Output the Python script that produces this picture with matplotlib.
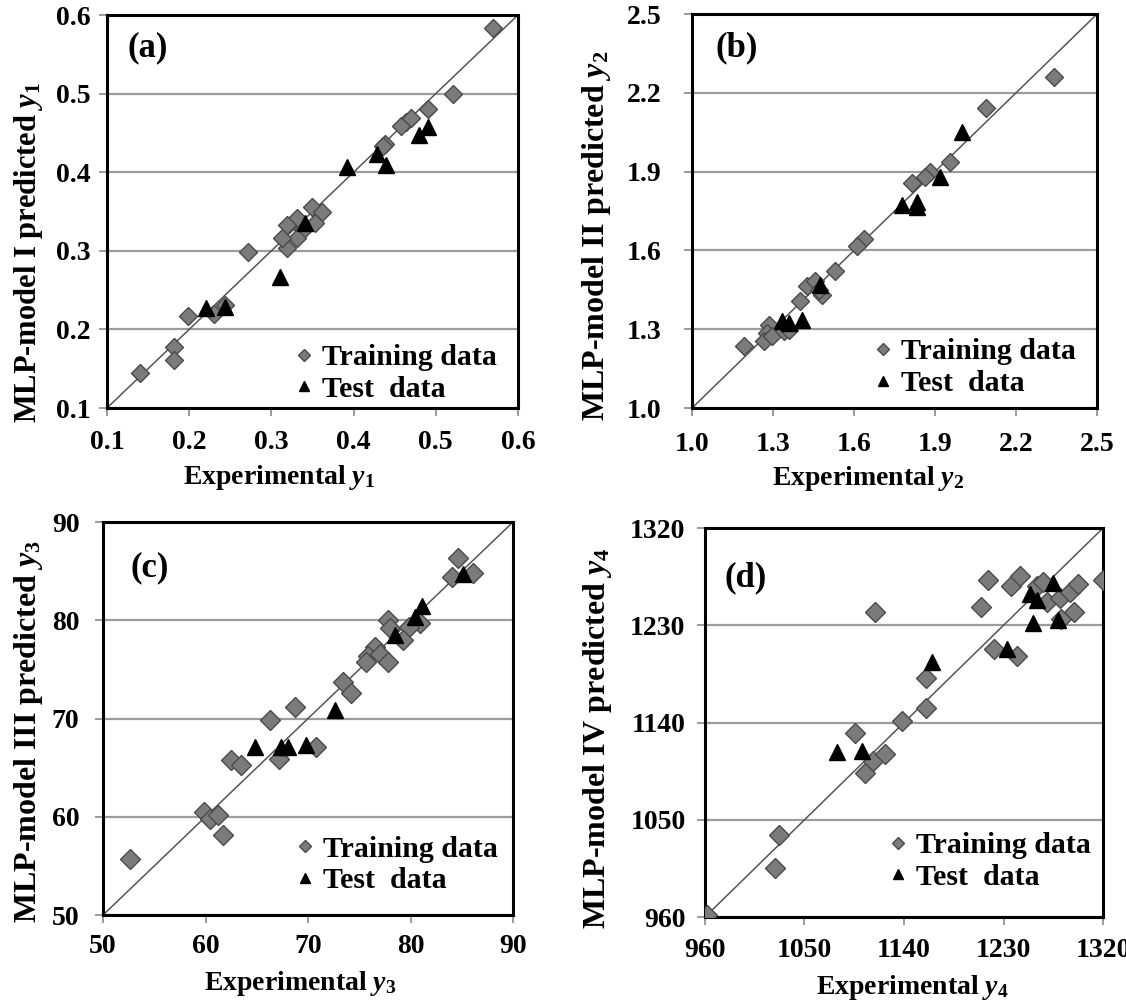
import matplotlib
matplotlib.use("Agg")
import matplotlib.pyplot as plt

plt.rcParams["font.family"] = "serif"
plt.rcParams["font.serif"] = ["Liberation Serif", "DejaVu Serif"]
plt.rcParams["font.weight"] = "bold"
plt.rcParams["mathtext.fontset"] = "custom"
plt.rcParams["mathtext.rm"] = "Liberation Serif:bold"
plt.rcParams["mathtext.it"] = "Liberation Serif:italic:bold"
plt.rcParams["mathtext.bf"] = "Liberation Serif:bold"

# ---- data ----
# (a) y1
a_train_x = [0.570, 0.521, 0.491, 0.464, 0.458, 0.470, 0.438, 0.436, 0.349, 0.361,
             0.331, 0.319, 0.353, 0.339, 0.331, 0.319, 0.313, 0.272, 0.199, 0.230,
             0.244, 0.182, 0.182, 0.140]
a_train_y = [0.583, 0.500, 0.481, 0.464, 0.459, 0.469, 0.436, 0.433, 0.356, 0.349,
             0.342, 0.333, 0.335, 0.327, 0.316, 0.303, 0.316, 0.298, 0.217, 0.219,
             0.231, 0.178, 0.161, 0.145]
a_test_x = [0.491, 0.479, 0.392, 0.428, 0.440, 0.341, 0.311, 0.221, 0.244]
a_test_y = [0.458, 0.447, 0.407, 0.423, 0.409, 0.335, 0.267, 0.227, 0.229]

# (b) y2
b_train_x = [2.340, 2.090, 1.957, 1.883, 1.864, 1.815, 1.636, 1.611, 1.531, 1.426,
             1.457, 1.481, 1.401, 1.284, 1.278, 1.265, 1.296, 1.340, 1.358, 1.191,
             1.469]
b_train_y = [2.259, 2.141, 1.938, 1.900, 1.881, 1.858, 1.643, 1.615, 1.520, 1.463,
             1.482, 1.431, 1.406, 1.317, 1.285, 1.254, 1.273, 1.292, 1.298, 1.235,
             1.450]
b_test_x = [2.000, 1.920, 1.778, 1.833, 1.833, 1.475, 1.407, 1.333, 1.358]
b_test_y = [2.052, 1.881, 1.773, 1.786, 1.767, 1.469, 1.336, 1.330, 1.323]

# (c) y3
c_train_x = [84.6, 84.0, 86.1, 77.8, 78.0, 80.9, 79.9, 79.3, 76.5, 75.9, 75.7, 77.0,
             77.8, 73.4, 74.2, 68.7, 66.3, 70.8, 67.2, 62.5, 63.5, 59.9, 60.4, 61.2,
             61.7, 52.6]
c_train_y = [86.3, 84.4, 84.8, 80.0, 79.2, 79.7, 79.3, 78.0, 77.3, 76.4, 75.8, 76.6,
             75.8, 73.7, 72.6, 71.2, 69.8, 67.1, 65.9, 65.8, 65.3, 60.5, 59.8, 60.2,
             58.1, 55.7]
c_test_x = [85.1, 81.1, 80.4, 78.5, 72.6, 64.8, 67.4, 68.0, 69.8]
c_test_y = [84.7, 81.5, 80.3, 78.5, 70.9, 67.1, 67.1, 67.1, 67.3]

# (d) y4
d_train_x = [962, 1023, 1027, 1114, 1096, 1105, 1112, 1123, 1138, 1160, 1160, 1216,
             1210, 1221, 1242, 1237, 1245, 1260, 1266, 1269, 1281, 1290, 1297, 1294,
             1282, 1320]
d_train_y = [962, 1005, 1036, 1242, 1130, 1093, 1104, 1111, 1141, 1153, 1181, 1272,
             1247, 1208, 1202, 1266, 1276, 1266, 1270, 1252, 1255, 1261, 1268, 1242,
             1236, 1272]
d_test_x = [1079, 1102, 1165, 1233, 1257, 1279, 1254, 1260, 1275]
d_test_y = [1113, 1114, 1196, 1208, 1232, 1235, 1259, 1253, 1269]

a_ticks = [0.1, 0.2, 0.3, 0.4, 0.5, 0.6]
b_ticks = [1.0, 1.3, 1.6, 1.9, 2.2, 2.5]
c_ticks = [50, 60, 70, 80, 90]
d_ticks = [960, 1050, 1140, 1230, 1320]
a_labels = ["0.1", "0.2", "0.3", "0.4", "0.5", "0.6"]
b_labels = ["1.0", "1.3", "1.6", "1.9", "2.2", "2.5"]
c_labels = ["50", "60", "70", "80", "90"]
d_labels = ["960", "1050", "1140", "1230", "1320"]

panels = [
    dict(rect=[0.0950, 0.5928, 0.3650, 0.3922], tag="(a)", tagpos=(0.05, 0.916),
         tx=a_train_x, ty=a_train_y, sx=a_test_x, sy=a_test_y,
         ticks=a_ticks, labels=a_labels, model="I", sub="1",
         xl=(0.418, -0.176), yl=(-0.192, 0.397), xpad=10, ypad=6, ms=9.5, yfs=22,
         leg=(1.0, -0.04)),
    dict(rect=[0.6146, 0.5928, 0.3597, 0.3932], tag="(b)", tagpos=(0.057, 0.914),
         tx=b_train_x, ty=b_train_y, sx=b_test_x, sy=b_test_y,
         ticks=b_ticks, labels=b_labels, model="II", sub="2",
         xl=(0.435, -0.178), yl=(-0.235, 0.437), xpad=11, ypad=16, ms=9.5, yfs=23,
         leg=(1.0, -0.025)),
    dict(rect=[0.0915, 0.0868, 0.3641, 0.3922], tag="(c)", tagpos=(0.066, 0.883),
         tx=c_train_x, ty=c_train_y, sx=c_test_x, sy=c_test_y,
         ticks=c_ticks, labels=c_labels, model="III", sub="3",
         xl=(0.48, -0.174), yl=(-0.183, 0.466), xpad=8, ypad=11, ms=10.5, yfs=23,
         leg=(1.015, 0.0)),
    dict(rect=[0.6261, 0.0848, 0.3535, 0.3882], tag="(d)", tagpos=(0.05, 0.871),
         tx=d_train_x, ty=d_train_y, sx=d_test_x, sy=d_test_y,
         ticks=d_ticks, labels=d_labels, model="IV", sub="4",
         xl=(0.52, -0.18), yl=(-0.271, 0.46), xpad=9, ypad=8, ms=10.5, yfs=23,
         leg=(1.022, 0.014)),
]

fig = plt.figure(figsize=(11.26, 10.02), dpi=100)

for p in panels:
    ax = fig.add_axes(p["rect"])
    lo, hi = p["ticks"][0], p["ticks"][-1]
    ax.set_xlim(lo, hi)
    ax.set_ylim(lo, hi)
    ax.set_xticks(p["ticks"])
    ax.set_yticks(p["ticks"])
    ax.set_xticklabels(p["labels"])
    ax.set_yticklabels(p["labels"])
    ax.grid(axis="y", color="#9c9c9c", lw=1.6, zorder=0)
    ax.set_axisbelow(True)
    ax.plot([lo, hi], [lo, hi], color="#555555", lw=1.1, zorder=1)

    ax.plot(p["tx"], p["ty"], ls="none", marker="D", ms=p["ms"], mfc="#7b7b7b",
            mec="#4a4a4a", mew=1.0, zorder=3, label="Training data")
    ax.plot(p["sx"], p["sy"], ls="none", marker="^", ms=11, mfc="black",
            mec="black", zorder=4, label="Test  data")

    for s in ax.spines.values():
        s.set_linewidth(2.2)
        s.set_color("black")
    ax.tick_params(axis="both", direction="out", length=6, width=1.2, color="#8a8a8a",
                   labelsize=20)
    ax.tick_params(axis="x", pad=p["xpad"])
    ax.tick_params(axis="y", pad=p["ypad"])

    ax.set_xlabel("Experimental $y_{%s}$" % p["sub"], fontsize=20, fontweight="bold")
    ax.set_ylabel("MLP-model %s predicted $y_{%s}$" % (p["model"], p["sub"]),
                  fontsize=p["yfs"], fontweight="bold")
    ax.xaxis.set_label_coords(*p["xl"])
    ax.yaxis.set_label_coords(*p["yl"])
    ax.xaxis.label.set_va("center")
    ax.yaxis.label.set_va("center")

    ax.text(p["tagpos"][0], p["tagpos"][1], p["tag"], transform=ax.transAxes,
            ha="left", va="center", fontsize=25, fontweight="bold")

    ax.legend(loc="lower right", bbox_to_anchor=p["leg"], frameon=False,
              fontsize=21.5, markerscale=0.6, handlelength=0.6, handletextpad=0.3,
              labelspacing=0.15, borderaxespad=0.3)

fig.savefig("out.png", dpi=100)
